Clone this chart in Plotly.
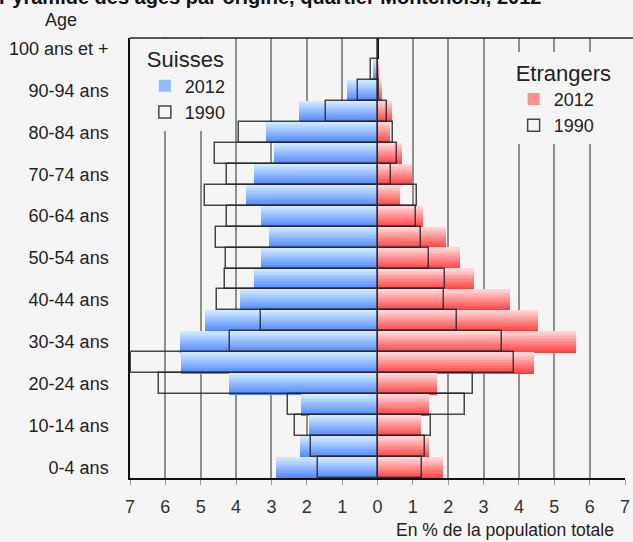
import plotly.graph_objects as go

# Classes d'âge, du bas vers le haut
ages = ["0-4 ans", "5-9 ans", "10-14 ans", "15-19 ans", "20-24 ans", "25-29 ans",
        "30-34 ans", "35-39 ans", "40-44 ans", "45-49 ans", "50-54 ans", "55-59 ans",
        "60-64 ans", "65-69 ans", "70-74 ans", "75-79 ans", "80-84 ans", "85-89 ans",
        "90-94 ans", "95-99 ans", "100 ans et +"]

# En % de la population totale
suisses_2012 = [2.88, 2.20, 1.94, 2.17, 4.21, 5.57, 5.59, 4.89, 3.90, 3.50, 3.30,
                3.08, 3.30, 3.73, 3.50, 2.94, 3.16, 2.23, 0.87, 0.12, 0.0]
suisses_1990 = [1.69, 1.88, 2.34, 2.52, 6.18, 6.98, 4.17, 3.29, 4.54, 4.30, 4.28,
                4.57, 4.27, 4.88, 4.25, 4.60, 3.92, 1.45, 0.54, 0.17, 0.0]
etrangers_2012 = [1.85, 1.46, 1.23, 1.46, 1.68, 4.43, 5.62, 4.54, 3.75, 2.73, 2.34,
                  1.94, 1.28, 0.64, 0.98, 0.69, 0.35, 0.41, 0.12, 0.05, 0.0]
etrangers_1990 = [1.27, 1.34, 1.50, 2.48, 2.71, 3.87, 3.51, 2.26, 1.89, 1.91, 1.45,
                  1.22, 1.10, 1.11, 0.37, 0.56, 0.45, 0.28, 0.05, 0.0, 0.0]

x_ticks = list(range(-7, 8))
x_labels = [str(abs(v)) for v in x_ticks]
age_labels = ages[::2]

BG = "#f5f5f5"
FONT = "Liberation Sans, Arial, sans-serif"


def mix(c1, c2, t):
    return "rgb(%d,%d,%d)" % tuple(round(a + (b - a) * t) for a, b in zip(c1, c2))


def gradient_bars(fig, values, dark, light, legend):
    # vertical gradient: draw each bar as thin horizontal slices
    n = 14
    for k in range(n):
        t = k / (n - 1)
        fig.add_trace(go.Bar(
            y=ages, x=values, orientation="h",
            width=1 / n + 0.004, offset=-0.5 + k / n,
            marker=dict(color=mix(dark, light, t), line_width=0),
            name="2012", legend=legend,
            showlegend=(k == n // 2), legendrank=1,
            hoverinfo="skip",
        ))


def outline_bars(fig, values, legend):
    fig.add_trace(go.Bar(
        y=ages, x=values, orientation="h", width=1,
        marker=dict(color="rgba(0,0,0,0)", line=dict(color="rgba(40,40,40,0.85)", width=1.5)),
        name="1990", legend=legend, legendrank=2,
    ))


fig = go.Figure()
gradient_bars(fig, [-v for v in suisses_2012], (80, 135, 255), (205, 233, 255), "legend")
gradient_bars(fig, etrangers_2012, (255, 65, 65), (255, 212, 212), "legend2")
outline_bars(fig, [-v for v in suisses_1990], "legend")
outline_bars(fig, etrangers_1990, "legend2")

fig.update_layout(
    width=633, height=542,
    margin=dict(l=130, r=8, t=38, b=64),
    paper_bgcolor=BG, plot_bgcolor=BG,
    font=dict(family=FONT, size=18, color="#222"),
    barmode="overlay", bargap=0,
    legend=dict(title=dict(text="Suisses"), x=0.03, y=0.998, xanchor="left", yanchor="top",
                bgcolor=BG, font=dict(size=18), traceorder="normal", tracegroupgap=0),
    legend2=dict(title=dict(text="Etrangers"), x=0.775, y=0.968, xanchor="left", yanchor="top",
                 bgcolor=BG, font=dict(size=18), traceorder="normal"),
    xaxis=dict(range=[-7, 7], tickvals=x_ticks, ticktext=x_labels, automargin=False,
               showgrid=True, gridcolor="#8f8f8f", gridwidth=1.5,
               zeroline=True, zerolinecolor="#111", zerolinewidth=1.5,
               showline=True, linecolor="#111", linewidth=1.5,
               ticks="outside", ticklen=5, tickcolor="#999",
               tickfont=dict(size=18, color="#333"), ticklabelstandoff=7),
    yaxis=dict(categoryorder="array", categoryarray=ages, automargin=False,
               tickvals=age_labels, showgrid=False,
               showline=True, linecolor="#111", linewidth=1.5,
               ticks="", ticklabelstandoff=16, tickfont=dict(size=18, color="#222")),
    shapes=[dict(type="line", xref="paper", yref="paper", x0=0, x1=1.02, y0=1, y1=1,
                 line=dict(color="#222", width=1.5))],
    annotations=[
        dict(text="<b>Pyramide des âges par origine, quartier Montchoisi, 2012</b>",
             xref="paper", yref="paper", x=-0.268, y=1.093,
             xanchor="left", yanchor="middle", showarrow=False,
             font=dict(size=20, color="#111")),
        dict(text="Age", xref="paper", yref="paper", x=-0.139, y=1.041,
             xanchor="center", yanchor="middle", showarrow=False,
             font=dict(size=18, color="#222")),
        dict(text="En % de la population totale", xref="paper", yref="paper",
             x=0.758, y=-0.118, xanchor="center", yanchor="middle", showarrow=False,
             font=dict(size=17.5, color="#222")),
    ],
)

fig.write_html("out.html", config={"displayModeBar": False},
               post_script="document.body.style.margin='0px';")
